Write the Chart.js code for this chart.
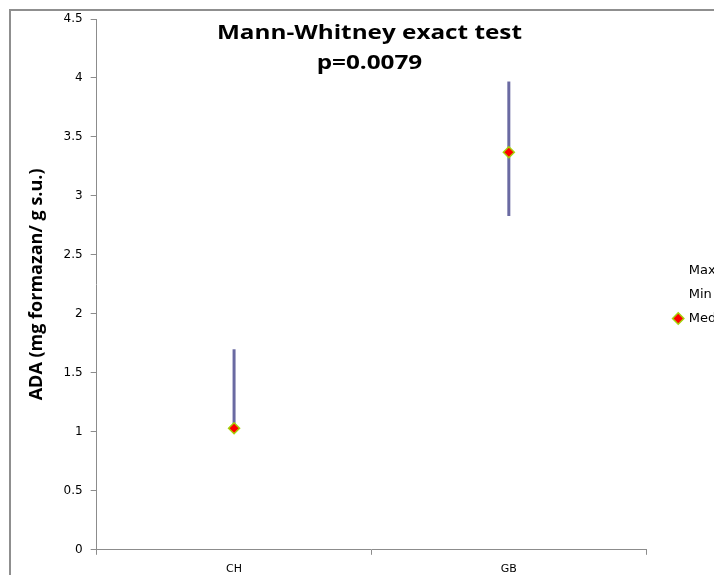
<!DOCTYPE html>
<html>
<head>
<meta charset="utf-8">
<script src="https://cdn.jsdelivr.net/npm/chart.js@4/dist/chart.umd.min.js"></script>
<style>
  html, body { margin: 0; padding: 0; background: #fff; overflow: hidden; }
  #wrap { width: 714px; height: 575px; overflow: hidden; position: relative; }
  #wrap canvas { position: absolute; left: 0; top: 0; }
</style>
</head>
<body>
<div id="wrap"><canvas id="chart" width="756" height="610"></canvas></div>
<script>
// chart values
const groups = ['CH', 'GB'];
const maxVals = [1.70, 3.97];
const minVals = [1.03, 2.83];
const medianVals = [1.03, 3.37];
const titleLines = ['Mann-Whitney exact test', 'p=0.0079'];

const axisGray = '#8c8c8c';

// frame around the whole chart (runs off the window like the original)
const framePlugin = {
  id: 'frame',
  beforeDraw(chart) {
    const ctx = chart.ctx;
    ctx.save();
    ctx.strokeStyle = '#8f8f8f';
    ctx.lineWidth = 2;
    ctx.strokeRect(10, 10, chart.width + 20, chart.height + 20);
    ctx.restore();
  }
};

// high-low lines between the Max and Min series
const hiLoPlugin = {
  id: 'hiLo',
  beforeDatasetsDraw(chart) {
    const { ctx, scales: { x, y } } = chart;
    ctx.save();
    ctx.strokeStyle = '#6a6aa2';
    ctx.lineWidth = 3;
    groups.forEach((g, i) => {
      const px = x.getPixelForValue(i);
      ctx.beginPath();
      ctx.moveTo(px, y.getPixelForValue(maxVals[i]));
      ctx.lineTo(px, y.getPixelForValue(minVals[i]));
      ctx.stroke();
    });
    ctx.restore();
  }
};

// title sits inside the plot area, a bit stretched like the original
const titlePlugin = {
  id: 'innerTitle',
  afterDraw(chart) {
    const { ctx, chartArea } = chart;
    const cx = (chartArea.left + chartArea.right) / 2 - 2;
    ctx.save();
    ctx.fillStyle = '#000';
    ctx.font = 'bold 19px "Open Sans", sans-serif';
    ctx.textAlign = 'center';
    ctx.textBaseline = 'middle';
    const sx = 305 / ctx.measureText(titleLines[0]).width;
    ctx.translate(cx, 0);
    ctx.scale(sx, 1);
    ctx.fillText(titleLines[0], 0, 34);
    ctx.fillText(titleLines[1], 0, 64);
    ctx.restore();
  }
};

new Chart(document.getElementById('chart'), {
  type: 'line',
  data: {
    labels: groups,
    datasets: [
      { label: 'Max', data: maxVals, showLine: false, pointRadius: 0, pointHoverRadius: 0 },
      { label: 'Min', data: minVals, showLine: false, pointRadius: 0, pointHoverRadius: 0 },
      {
        label: 'Median', data: medianVals, showLine: false,
        pointStyle: 'rectRot', pointRadius: 5.5, pointBorderWidth: 1.5,
        pointBackgroundColor: '#ff0000', pointBorderColor: '#a6d20a'
      }
    ]
  },
  options: {
    responsive: false,
    animation: false,
    events: [],
    layout: { padding: { left: 26, top: 5, right: 10, bottom: 26 } },
    plugins: {
      tooltip: { enabled: false },
      legend: {
        position: 'right',
        labels: {
          usePointStyle: true,
          boxWidth: 8,
          boxHeight: 8,
          padding: 11,
          color: '#000',
          font: { size: 13, family: '"DejaVu Sans", sans-serif' },
          generateLabels(chart) {
            return chart.data.datasets.map((ds, i) => ({
              text: ds.label,
              datasetIndex: i,
              pointStyle: i === 2 ? 'rectRot' : 'circle',
              fillStyle: i === 2 ? '#ff0000' : 'rgba(0,0,0,0)',
              strokeStyle: i === 2 ? '#a6d20a' : 'rgba(0,0,0,0)',
              lineWidth: 1.5,
              fontColor: '#000'
            }));
          }
        }
      }
    },
    scales: {
      x: {
        offset: true,
        grid: { offset: true, drawOnChartArea: false, tickLength: 5, color: axisGray },
        border: { color: axisGray },
        ticks: { color: '#000', font: { size: 11, family: '"DejaVu Sans", sans-serif' }, padding: 8 }
      },
      y: {
        min: 0,
        max: 4.5,
        ticks: {
          stepSize: 0.5,
          color: '#000',
          font: { size: 12, family: '"DejaVu Sans", sans-serif' },
          padding: 8,
          callback: v => String(Number(v.toFixed(1)))
        },
        grid: { drawOnChartArea: false, tickLength: 6, color: axisGray },
        border: { color: axisGray },
        title: {
          display: true,
          text: 'ADA (mg formazan/ g s.u.)',
          color: '#000',
          font: { size: 18, weight: 'bold', family: '"Open Sans", sans-serif' },
          padding: { top: 0, bottom: 8 }
        }
      },
      // empty spacer between the plot and the legend
      gap: {
        position: 'right',
        display: true,
        grid: { display: false },
        border: { display: false },
        ticks: { display: false },
        afterFit(scale) { scale.width = 17; }
      },
      // empty spacer above the plot
      top: {
        position: 'top',
        display: true,
        grid: { display: false },
        border: { display: false },
        ticks: { display: false },
        afterFit(scale) { scale.height = 14; }
      }
    }
  },
  plugins: [framePlugin, hiLoPlugin, titlePlugin]
});
</script>
</body>
</html>
